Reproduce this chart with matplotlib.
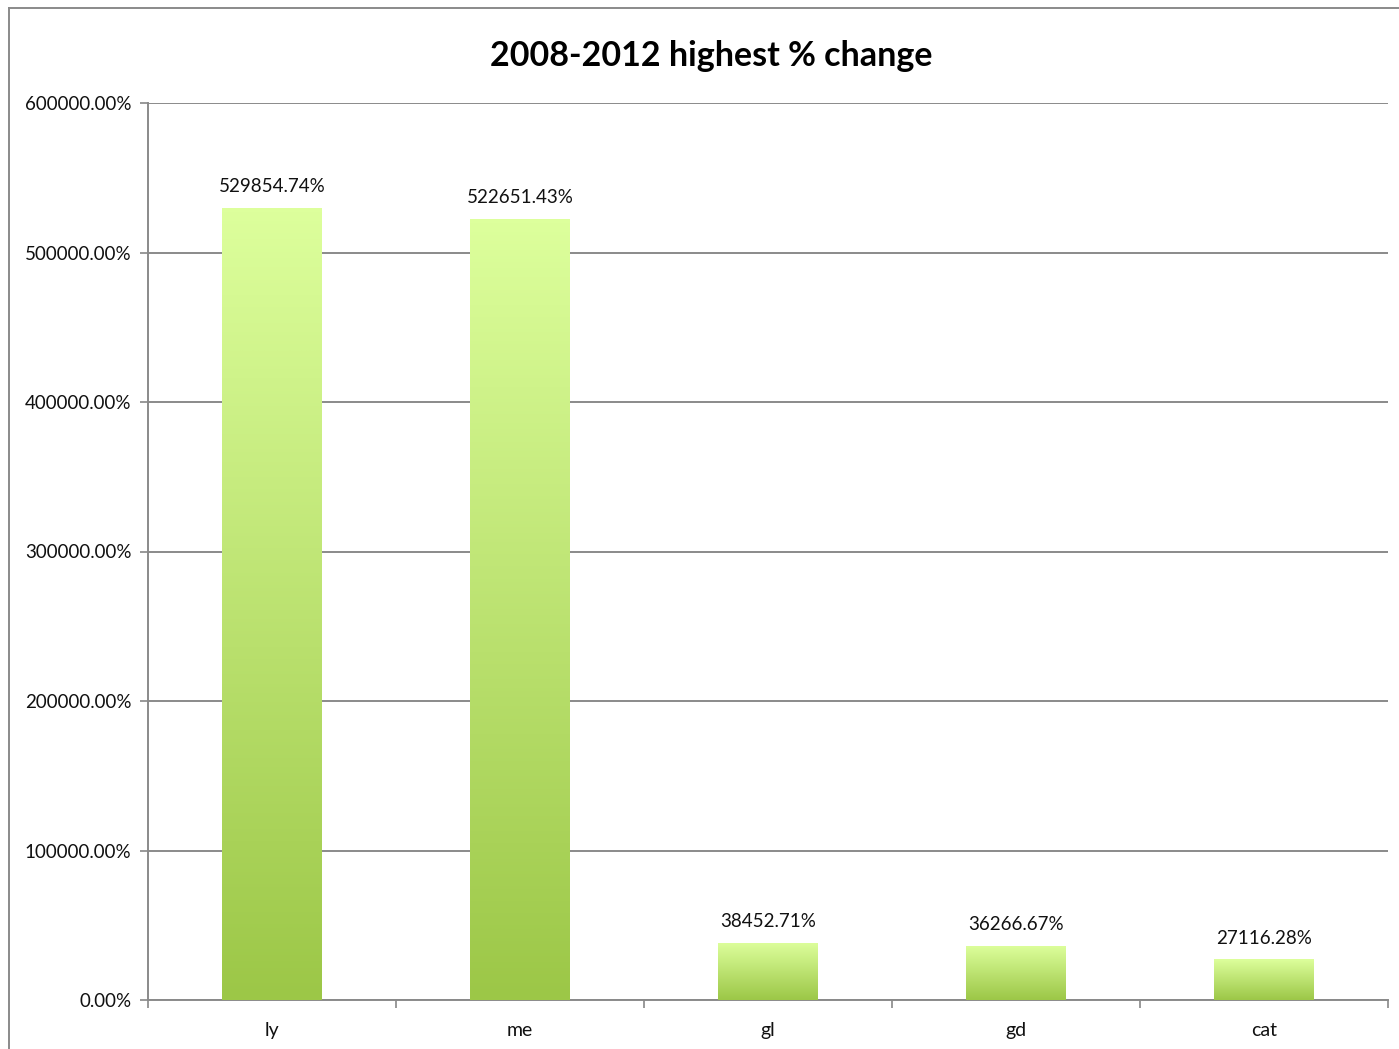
import numpy as np
import matplotlib
matplotlib.use("Agg")
import matplotlib.pyplot as plt
from matplotlib.lines import Line2D
from matplotlib.colors import LinearSegmentedColormap
from matplotlib.ticker import FuncFormatter, MultipleLocator

categories = ["ly", "me", "gl", "gd", "cat"]
values = [529854.74, 522651.43, 38452.71, 36266.67, 27116.28]
title = "2008-2012 highest % change"

plt.rcParams['font.family'] = ['Lato', 'DejaVu Sans']

W, H = 1399, 1049
fig = plt.figure(figsize=(W / 100, H / 100), dpi=100)
ax = fig.add_axes([148 / W, 1 - 1000 / H, (1388 - 148) / W, (1000 - 103) / H])

x = np.arange(len(categories))
bars = ax.bar(x, values, width=0.4, color='none', edgecolor='none', zorder=3)

cmap = LinearSegmentedColormap.from_list("g", ["#9cc747", "#ddff9c"])
grad = np.linspace(0, 1, 256).reshape(-1, 1)
for b in bars:
    x0, y0 = b.get_x(), b.get_y()
    w, h = b.get_width(), b.get_height()
    im = ax.imshow(grad, cmap=cmap, aspect='auto', origin='lower',
                   extent=[x0, x0 + w, y0, y0 + h], zorder=3, interpolation='bicubic')
    im.set_clip_path(b)

for xi, v in zip(x, values):
    ax.annotate(f"{v:.2f}%", (xi, v), xytext=(0, 9), textcoords='offset points',
                ha='center', va='bottom', fontsize=13.5, color='#111111')

ax.set_xlim(-0.5, len(categories) - 0.5)
ax.set_ylim(0, 600000)
ax.yaxis.set_major_locator(MultipleLocator(100000))
ax.yaxis.set_major_formatter(FuncFormatter(lambda v, p: f"{v:.2f}%"))
ax.set_xticks(x)
ax.set_xticklabels(categories)
ax.set_xticks(np.arange(-0.5, len(categories)), minor=True)
ax.tick_params(axis='x', which='major', length=0, pad=16, labelsize=14)
ax.tick_params(axis='x', which='minor', length=6, width=1.2, color='#888888', direction='out')
ax.tick_params(axis='y', length=6, width=1.2, color='#888888', direction='out', labelsize=13.5, pad=6)
for lbl in ax.get_xticklabels() + ax.get_yticklabels():
    lbl.set_color('#111111')

ax.grid(axis='y', color='#8a8a8a', linewidth=1.4, zorder=0)
ax.set_axisbelow(True)
for s in ['top', 'right']:
    ax.spines[s].set_visible(False)
for s in ['left', 'bottom']:
    ax.spines[s].set_color('#8a8a8a')
    ax.spines[s].set_linewidth(1.4)

fig.text(711 / W, 1 - 56 / H, title, ha='center', va='center', fontsize=24.5, fontweight='bold', color='black')

# outer frame
fig.add_artist(Line2D([9 / W, 9 / W], [0, 1 - 8 / H], transform=fig.transFigure, color='#8a8a8a', linewidth=1.4))
fig.add_artist(Line2D([9 / W, 1], [1 - 8 / H, 1 - 8 / H], transform=fig.transFigure, color='#8a8a8a', linewidth=1.4))

fig.savefig("out.png", dpi=100)
